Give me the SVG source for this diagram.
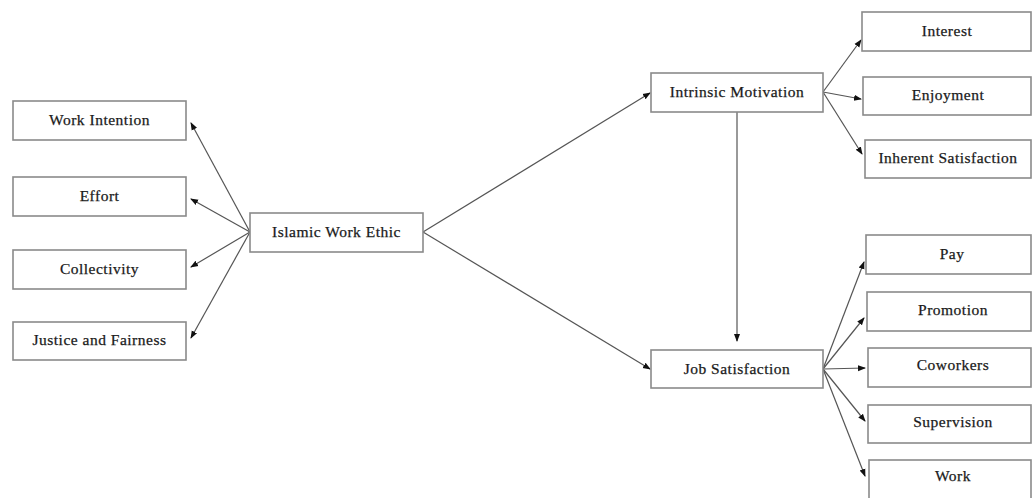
<svg xmlns="http://www.w3.org/2000/svg" width="1032" height="498" viewBox="0 0 1032 498">
<style>
.box{fill:#fff;stroke:#8a8a8a;stroke-width:1.6}
.lbl{font-family:"Liberation Serif","DejaVu Serif",serif;font-size:15.5px;letter-spacing:0.5px;fill:#1a1a1a;stroke:#1a1a1a;stroke-width:0.25;text-anchor:middle;dominant-baseline:central}
.con{stroke:#555;stroke-width:1.2;fill:none;marker-end:url(#ah)}
</style>
<defs>
<marker id="ah" markerUnits="userSpaceOnUse" markerWidth="8" markerHeight="8" viewBox="0 0 8 8" refX="7" refY="4" orient="auto">
<path d="M0,1 L8,4 L0,7 Z" fill="#111"/>
</marker>
</defs>
<rect width="1032" height="498" fill="#fff"/>
<g id="connectors">
<line class="con" x1="250" y1="232" x2="191" y2="123"/>
<line class="con" x1="250" y1="232" x2="191" y2="199"/>
<line class="con" x1="250" y1="232" x2="191" y2="267"/>
<line class="con" x1="250" y1="232" x2="191" y2="338"/>
<line class="con" x1="423" y1="232" x2="650" y2="93"/>
<line class="con" x1="423" y1="232" x2="650" y2="369"/>
<line class="con" x1="737" y1="112" x2="737" y2="341"/>
<line class="con" x1="823" y1="92" x2="861" y2="40"/>
<line class="con" x1="823" y1="92" x2="861" y2="99"/>
<line class="con" x1="823" y1="92" x2="862" y2="154"/>
<line class="con" x1="823" y1="369" x2="864" y2="262"/>
<line class="con" x1="823" y1="369" x2="864" y2="318"/>
<line class="con" x1="823" y1="369" x2="865" y2="368"/>
<line class="con" x1="823" y1="369" x2="865" y2="421"/>
<line class="con" x1="823" y1="369" x2="865" y2="476"/>
</g>
<g id="work-intention"><rect class="box" x="13" y="101" width="173" height="39"/><text class="lbl" x="99.5" y="119">Work Intention</text></g>
<g id="effort"><rect class="box" x="13" y="177" width="173" height="39"/><text class="lbl" x="99.5" y="195">Effort</text></g>
<g id="collectivity"><rect class="box" x="13" y="250" width="173" height="39"/><text class="lbl" x="99.5" y="268">Collectivity</text></g>
<g id="justice"><rect class="box" x="13" y="322" width="173" height="38"/><text class="lbl" x="99.5" y="339">Justice and Fairness</text></g>
<g id="iwe"><rect class="box" x="250" y="213" width="173" height="39"/><text class="lbl" x="336.5" y="231">Islamic Work Ethic</text></g>
<g id="intrinsic"><rect class="box" x="651" y="73" width="172" height="39"/><text class="lbl" x="737" y="91">Intrinsic Motivation</text></g>
<g id="jobsat"><rect class="box" x="651" y="350" width="172" height="38"/><text class="lbl" x="737" y="368">Job Satisfaction</text></g>
<g id="interest"><rect class="box" x="862" y="12" width="169" height="39"/><text class="lbl" x="947" y="30">Interest</text></g>
<g id="enjoyment"><rect class="box" x="863" y="77" width="168" height="38"/><text class="lbl" x="948" y="94">Enjoyment</text></g>
<g id="inherent"><rect class="box" x="865" y="140" width="166" height="38"/><text class="lbl" x="948" y="157">Inherent Satisfaction</text></g>
<g id="pay"><rect class="box" x="866" y="235" width="165" height="39"/><text class="lbl" x="952" y="253">Pay</text></g>
<g id="promotion"><rect class="box" x="867" y="292" width="164" height="39"/><text class="lbl" x="953" y="309">Promotion</text></g>
<g id="coworkers"><rect class="box" x="868" y="348" width="163" height="39"/><text class="lbl" x="953" y="364">Coworkers</text></g>
<g id="supervision"><rect class="box" x="868" y="405" width="163" height="38"/><text class="lbl" x="953" y="421">Supervision</text></g>
<g id="work"><rect class="box" x="869" y="460" width="162" height="40"/><text class="lbl" x="953" y="475">Work</text></g>
</svg>
